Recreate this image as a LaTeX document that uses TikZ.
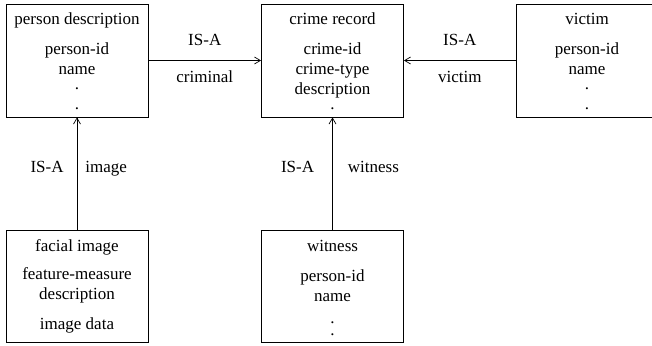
\documentclass[tikz,border=0pt]{standalone}
\usepackage{fontspec}
\setmainfont{Liberation Serif}
\usetikzlibrary{arrows.meta,positioning}

\begin{document}
\begin{tikzpicture}[x=1pt, y=-1pt, line width=0.8pt,
    every node/.style={font=\fontsize{17}{20}\selectfont},
    entity/.style={draw, minimum width=142pt, minimum height=113pt, inner sep=0pt},
    attr/.style={inner sep=0pt, text height=12.4pt, text depth=3.7pt},
    dotrow/.style={inner sep=0pt, text height=2pt, text depth=0pt},
    isa/.style={-{Straight Barb[length=6pt, width=7pt, line width=0.7pt]}}]

    \clip (0,0) rectangle (652,345);

    % -- Riquadri delle entita' --
    \node[entity] (person) at (77,60.5) {};
    \node[entity] (crime) at (332.5,60.5) {};
    \node[entity] (victim) at (587,60.5) {};
    \node[entity, minimum height=112pt] (facial) at (77,286) {};
    \node[entity, minimum height=112pt] (witness) at (332.5,286) {};

    % -- person description --
    \node[attr] (pTitle) at (77,20) {person description};
    \node[attr] (pId) at (77,50) {person-id};
    \node[attr] (pName) at (77,70) {name};
    \node[dotrow] (pDotA) at (77,88) {.};
    \node[dotrow] (pDotB) at (77,108) {.};

    % -- crime record --
    \node[attr] (cTitle) at (332.5,20) {crime record};
    \node[attr] (cId) at (332.5,50) {crime-id};
    \node[attr] (cType) at (332.5,70) {crime-type};
    \node[attr] (cDescr) at (332.5,90) {description};
    \node[dotrow] (cDot) at (332.5,108) {.};

    % -- victim --
    \node[attr] (vTitle) at (587,20) {victim};
    \node[attr] (vId) at (587,50) {person-id};
    \node[attr] (vName) at (587,70) {name};
    \node[dotrow] (vDotA) at (587,88) {.};
    \node[dotrow] (vDotB) at (587,108) {.};

    % -- facial image --
    \node[attr] (fTitle) at (77,247) {facial image};
    \node[attr] (fMeas) at (77,275) {feature-measure};
    \node[attr] (fDescr) at (77,295) {description};
    \node[attr] (fData) at (77,325) {image data};

    % -- witness --
    \node[attr] (wTitle) at (332.5,247) {witness};
    \node[attr] (wId) at (332.5,277) {person-id};
    \node[attr] (wName) at (332.5,297) {name};
    \node[dotrow] (wDotA) at (332.5,322) {.};
    \node[dotrow] (wDotB) at (332.5,334) {.};

    % -- Relazioni IS-A --
    \draw[isa] (person) -- node[attr, above=11pt] (isaCrim) {IS-A}
                           node[attr, below=9pt] (lblCrim) {criminal} (crime);
    \draw[isa] (victim) -- node[attr, above=11pt] (isaVict) {IS-A}
                           node[attr, below=9pt] (lblVict) {victim} (crime);
    \draw[isa] (facial) -- node[attr, pos=0.55, left=13pt] (isaImg) {IS-A}
                           node[attr, pos=0.55, right=8pt] (lblImg) {image} (person);
    \draw[isa] (witness) -- node[attr, pos=0.55, left=18pt] (isaWit) {IS-A}
                            node[attr, pos=0.55, right=15pt] (lblWit) {witness} (crime);
\end{tikzpicture}
\end{document}
